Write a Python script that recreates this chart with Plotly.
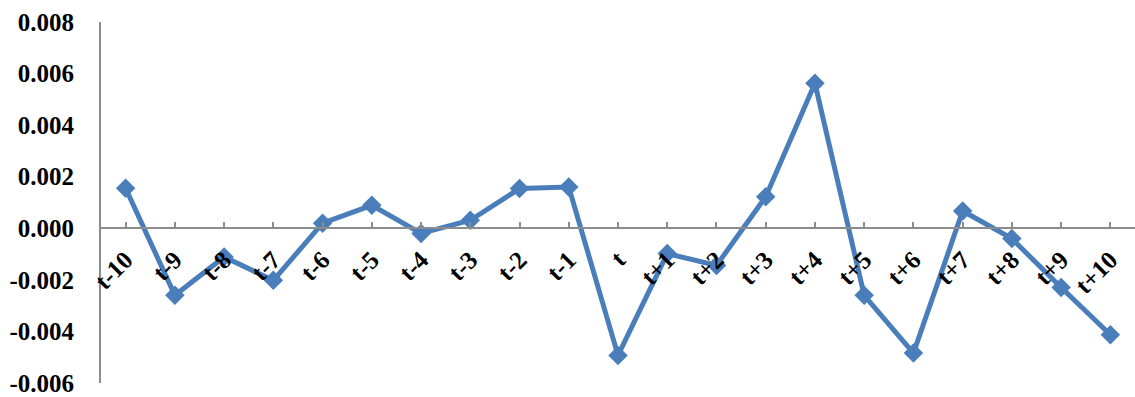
import plotly.graph_objects as go

# Event-window periods and the average abnormal return for each
periods = ["t-10", "t-9", "t-8", "t-7", "t-6", "t-5", "t-4", "t-3", "t-2", "t-1", "t",
           "t+1", "t+2", "t+3", "t+4", "t+5", "t+6", "t+7", "t+8", "t+9", "t+10"]
returns = [0.00155, -0.00260, -0.00111, -0.00202, 0.00020, 0.00089, -0.00020, 0.00031,
           0.00154, 0.00160, -0.00493, -0.00098, -0.00144, 0.00122, 0.00562, -0.00260,
           -0.00484, 0.00067, -0.00040, -0.00230, -0.00413]

# Value axis ticks
y_ticks = [-0.006, -0.004, -0.002, 0.000, 0.002, 0.004, 0.006, 0.008]
y_tick_text = ["-0.006", "-0.004", "-0.002", "0.000", "0.002", "0.004", "0.006", "0.008"]

y_min, y_max = -0.006, 0.008
blue = "#4A7EBB"
axis_grey = "#8C8C8C"
font_family = "Liberation Serif"

fig = go.Figure(
    go.Scatter(
        x=list(range(len(periods))),
        y=returns,
        mode="lines+markers",
        line=dict(color=blue, width=5),
        marker=dict(symbol="diamond", size=15, color=blue),
        hoverinfo="skip",
    )
)

fig.update_layout(
    width=1135,
    height=397,
    margin=dict(l=101, r=0, t=22, b=14),
    paper_bgcolor="white",
    plot_bgcolor="white",
    showlegend=False,
    font=dict(family=font_family, color="black", weight="bold"),
)

# Category axis crosses the value axis at zero
fig.update_xaxes(
    range=[-0.5, len(periods) - 0.5],
    tickmode="array",
    tickvals=list(range(len(periods))),
    ticktext=periods,
    tickangle=-45,
    tickfont=dict(family=font_family, size=25, color="black", weight="bold"),
    ticks="inside",
    ticklen=5,
    tickwidth=1.5,
    tickcolor=axis_grey,
    showline=True,
    linecolor=axis_grey,
    linewidth=2,
    showgrid=False,
    zeroline=False,
    anchor="free",
    position=(0 - y_min) / (y_max - y_min),
    ticklabelstandoff=6,
)

fig.update_yaxes(
    range=[y_min, y_max],
    tickmode="array",
    tickvals=y_ticks,
    ticktext=y_tick_text,
    tickfont=dict(family=font_family, size=25, color="black", weight="bold"),
    ticks="",
    showline=True,
    linecolor=axis_grey,
    linewidth=2,
    showgrid=False,
    zeroline=False,
    ticklabelstandoff=20,
)

fig.write_html("out.html")
